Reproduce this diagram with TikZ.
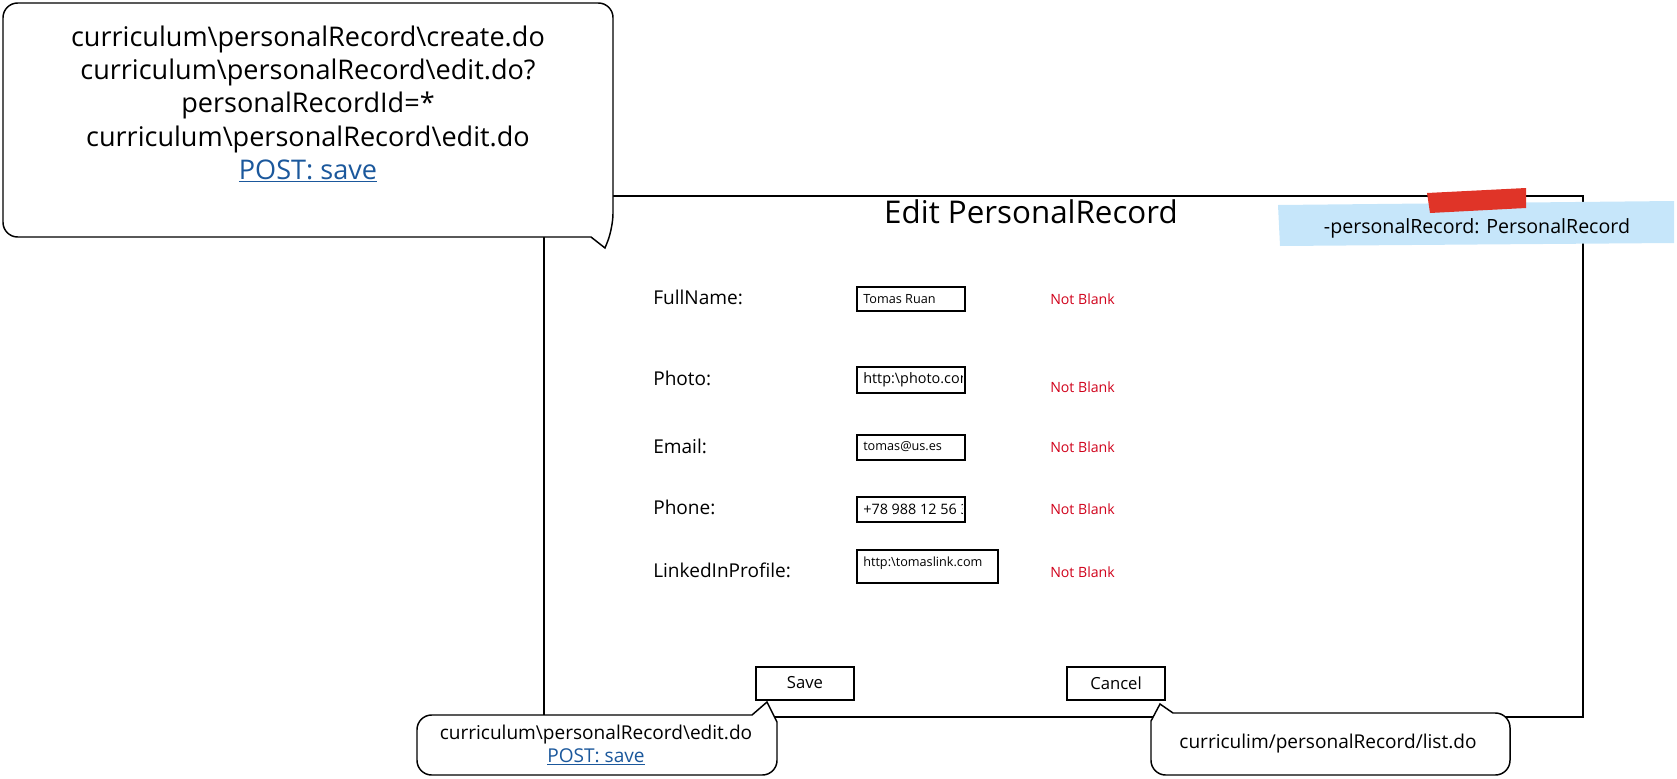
\documentclass[tikz,border=0pt]{standalone}
\usepackage{fontspec}
\setmainfont{Open Sans}
\usepackage{tikz}

\definecolor{linkblue}{RGB}{27,88,156}
\definecolor{errred}{RGB}{208,2,27}
\definecolor{notefill}{RGB}{198,230,250}
\definecolor{tapered}{RGB}{224,52,40}
\newcommand{\pathsep}{\textbackslash}

\begin{document}
\begin{tikzpicture}[x=0.75pt,y=0.75pt,yscale=-1,xscale=1,
    inputbox/.style={draw,line width=1.5pt,fill=white},
    button/.style={draw,line width=1.5pt,fill=white},
    bubble/.style={draw,line width=1.1pt,fill=white},
    lbl/.style={anchor=west,inner sep=0.75pt,font=\fontsize{14.3}{16}\selectfont},
    val/.style={anchor=west,inner sep=0.75pt,font=\fontsize{9.5}{11}\selectfont},
    bigval/.style={val,font=\fontsize{10.8}{12}\selectfont},
    err/.style={anchor=west,inner sep=0.75pt,text=errred,font=\fontsize{10.6}{12}\selectfont},
    btntext/.style={inner sep=0.75pt,font=\fontsize{12.5}{14}\selectfont}]
        \useasboundingbox (0,0) rectangle (1677,778);
        % window
        \draw [line width=1.4pt]  (544,196) rectangle (1583,717) ;
        \draw (1031,212) node [inner sep=0.75pt,font=\fontsize{23.5}{27}\selectfont] (title) {Edit PersonalRecord};
        % form rows
        \draw (652,297) node [lbl] (lblFullName) {FullName:};
        \draw (652,378) node [lbl] (lblPhoto) {Photo:};
        \draw (652,446) node [lbl] (lblEmail) {Email:};
        \draw (652,507) node [lbl] (lblPhone) {Phone:};
        \draw (652,570) node [lbl] (lblLinked) {LinkedInProfile:};
        \draw [inputbox]  (857,287) rectangle (965,311) ;
        \draw [inputbox]  (857,367) rectangle (965,393) ;
        \draw [inputbox]  (857,435) rectangle (965,460) ;
        \draw [inputbox]  (857,497) rectangle (965,522) ;
        \draw [inputbox]  (857,550) rectangle (998,583) ;
        \draw (862,299) node [val] (valFullName) {Tomas Ruan};
        \begin{scope}
        \clip (859,369) rectangle (962,391) ;
        \draw (862,380) node [bigval] (valPhoto) {http:\pathsep photo.com};
        \end{scope}
        \draw (862,447) node [val] (valEmail) {tomas@us.es};
        \begin{scope}
        \clip (859,499) rectangle (962,520) ;
        \draw (862,509) node [bigval] (valPhone) {+78 988 12 56 33};
        \end{scope}
        \draw (862,563) node [val] (valLinked) {http:\pathsep tomaslink.com};
        \draw (1049,299) node [err] (errFullName) {Not Blank};
        \draw (1049,387) node [err] (errPhoto) {Not Blank};
        \draw (1049,447) node [err] (errEmail) {Not Blank};
        \draw (1049,509) node [err] (errPhone) {Not Blank};
        \draw (1049,572) node [err] (errLinked) {Not Blank};
        % buttons
        \draw [button]  (756,667) rectangle (854,700) ;
        \draw (805,683) node [btntext] (save) {Save};
        \draw [button]  (1067,667) rectangle (1165,700) ;
        \draw (1116,683) node [btntext] (cancel) {Cancel};
        % callouts
        \draw [bubble] (300,3) [rounded corners=11pt] -- (613,3) -- (613,228) [sharp corners] -- (605,248) -- (591,237) [rounded corners=11pt] -- (3,237) -- (3,3) -- cycle ;
        \draw (308,104) node [inner sep=0.75pt,align=center,font=\fontsize{20.3}{25}\selectfont] (urlsEdit) {curriculum\pathsep personalRecord\pathsep create.do\\ curriculum\pathsep personalRecord\pathsep edit.do?\\ personalRecordId=*\\ curriculum\pathsep personalRecord\pathsep edit.do\\ \textcolor{linkblue}{\underline{POST: save}}};
        \draw [bubble] (600,775) [rounded corners=11pt] -- (417,775) -- (417,715) [sharp corners] -- (752,715) -- (767,702) -- (777,722) [rounded corners=11pt] -- (777,775) -- cycle ;
        \draw (596,745) node [inner sep=0.75pt,align=center,font=\fontsize{14.3}{17}\selectfont] (urlSave) {curriculum\pathsep personalRecord\pathsep edit.do\\ \textcolor{linkblue}{\underline{POST: save}}};
        \draw [bubble] (1330,775) [rounded corners=11pt] -- (1510,775) -- (1510,713) [sharp corners] -- (1173,713) -- (1160,704) -- (1151,721) [rounded corners=11pt] -- (1151,775) -- cycle ;
        \draw (1328,744) node [inner sep=0.75pt,font=\fontsize{14.3}{16}\selectfont] (urlCancel) {curriculim/personalRecord/list.do};
        % sticky note
        \fill [notefill]  (1278,205) -- (1674,201) -- (1674,243) -- (1280,246) -- cycle ;
        \fill [tapered]  (1427,193) -- (1526,188) -- (1526,208) -- (1430,213) -- cycle ;
        \draw (1477,228) node [inner sep=0.75pt,font=\fontsize{14.7}{17}\selectfont] (noteText) {-personalRecord: PersonalRecord};
\end{tikzpicture}
\end{document}
